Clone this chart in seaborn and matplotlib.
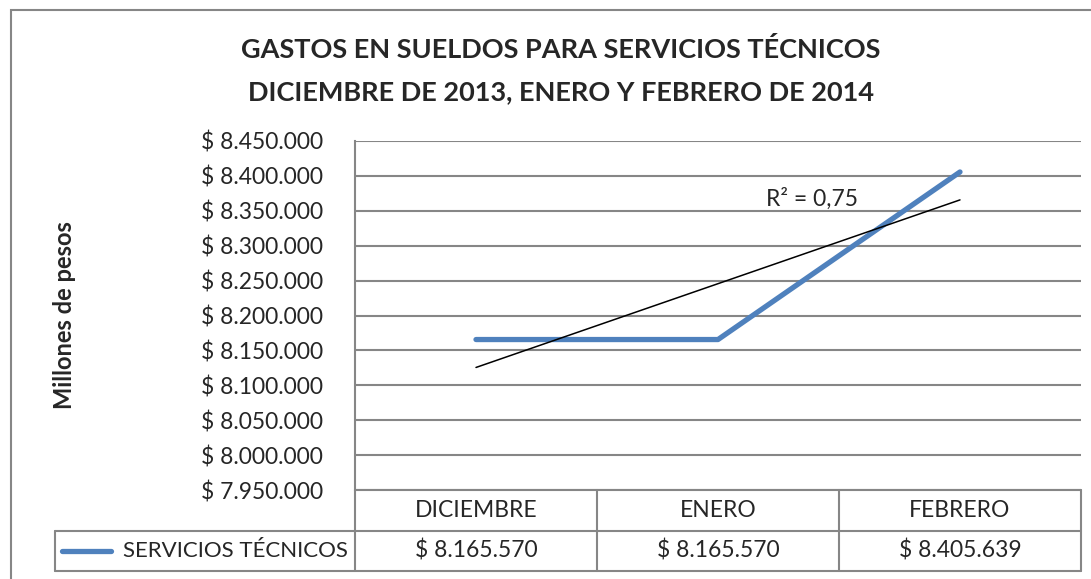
import numpy as np
import pandas as pd
import seaborn as sns
import matplotlib.pyplot as plt
from matplotlib.patches import Rectangle

sns.set_theme(style='white')
plt.rcParams['font.family'] = ['Lato', 'DejaVu Sans']

title_lines = ["GASTOS EN SUELDOS PARA SERVICIOS TÉCNICOS",
               "DICIEMBRE DE 2013, ENERO Y FEBRERO DE 2014"]
months = ["DICIEMBRE", "ENERO", "FEBRERO"]
series_name = "SERVICIOS TÉCNICOS"
values = [8165570, 8165570, 8405639]
yticks = np.arange(7950000, 8450001, 50000)

W, H = 1091, 579
blue = '#4F81BD'
grid = '#868686'
fs = 16.5


def money(v):
    return "$ " + f"{v:,.0f}".replace(",", ".")


def px(x0, y0, x1, y1):
    # pixel box (top-left origin) -> figure fraction
    return [x0 / W, 1 - y1 / H, (x1 - x0) / W, (y1 - y0) / H]


df = pd.DataFrame({'pos': np.arange(len(months)), 'value': values})

fig = plt.figure(figsize=(W / 100, H / 100), dpi=100)
fig.patches.append(Rectangle((11 / W, -0.1), 1.2, 1.1 - 10 / H, transform=fig.transFigure,
                             fill=False, edgecolor=grid, lw=1.5))

ax = fig.add_axes(px(355, 141, 1081, 490))
sns.lineplot(data=df, x='pos', y='value', ax=ax, color=blue, lw=3.8,
             solid_capstyle='round')
sns.regplot(data=df, x='pos', y='value', ax=ax, scatter=False, ci=None,
            truncate=True, color='black', line_kws={'lw': 1.1})
r2 = np.corrcoef(df['pos'], df['value'])[0, 1] ** 2
ax.text(1.2, 8367000, f"R² = {r2:.2f}".replace(".", ","), fontsize=fs,
        ha='left', va='center')

ax.set_xlim(-0.5, 2.5)
ax.set_ylim(yticks[0], yticks[-1])
ax.set_yticks(yticks)
ax.set_yticklabels([money(v) for v in yticks], fontsize=fs)
ax.set_xticks([])
ax.set_xlabel('')
ax.set_ylabel('Millones de pesos', fontsize=17, fontweight='bold')
ax.yaxis.set_label_coords(-0.384, 0.5)
ax.tick_params(axis='y', length=0, pad=23)
ax.grid(axis='y', color=grid, lw=1.5)
for s in ['top', 'right', 'bottom']:
    ax.spines[s].set_visible(False)
ax.spines['left'].set_color(grid)
ax.spines['left'].set_linewidth(1.5)

# data table under the plot
lw_w = 300 / 242
tab = fig.add_axes(px(55, 490, 1081, 571))
tab.set_xlim(-0.5 - lw_w, 2.5)
tab.set_ylim(0, 2)
tab.axis('off')
kw = dict(color=grid, lw=1.5, clip_on=False)
tab.plot([-0.5, 2.5], [2, 2], **kw)
tab.plot([-0.5 - lw_w, 2.5], [1, 1], **kw)
tab.plot([-0.5 - lw_w, 2.5], [0, 0], **kw)
tab.plot([-0.5 - lw_w] * 2, [0, 1], **kw)
for b in np.arange(len(months) + 1) - 0.5:
    tab.plot([b, b], [0, 2], **kw)
for i, (m, v) in enumerate(zip(months, values)):
    tab.text(i, 1.5, m, ha='center', va='center', fontsize=fs)
    tab.text(i, 0.5, money(v), ha='center', va='center', fontsize=fs)
tab.plot([-0.5 - lw_w + 0.03, -0.5 - lw_w + 0.23], [0.5, 0.5], color=blue, lw=3.8,
         solid_capstyle='round')
tab.text(-0.5 - 0.03, 0.5, series_name, ha='right', va='center', fontsize=16)

for k, line in enumerate(title_lines):
    fig.text(561 / W, 1 - (50 + 42 * k) / H, line, ha='center', va='center',
             fontsize=19.5, fontweight='bold')

fig.savefig('out.png', dpi=100)
